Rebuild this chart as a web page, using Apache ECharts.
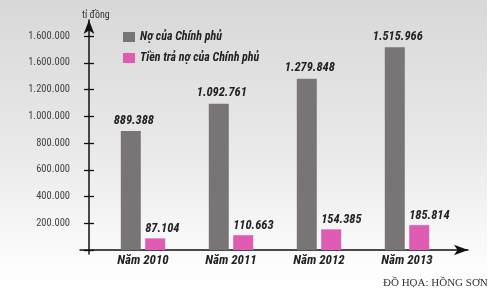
<!DOCTYPE html>
<html><head><meta charset="utf-8">
<script src="https://cdn.jsdelivr.net/npm/echarts@6/dist/echarts.min.js"></script>
<style>html,body{margin:0;padding:0;background:#fff}#c{width:500px;height:298px}</style>
</head><body><div id="c"></div>
<script>
const categories = ['Năm 2010', 'Năm 2011', 'Năm 2012', 'Năm 2013'];
const debtValues = [889388, 1092761, 1279848, 1515966];
const paymentValues = [87104, 110663, 154385, 185814];
const seriesNames = ['Nợ của Chính phủ', 'Tiền trả nợ của Chính phủ'];
const yTickLabels = ['', '200.000', '400.000', '600.000', '800.000', '1.000.000', '1.200.000', '1.600.000', '1.600.000'];
const unitLabel = 'tỉ đồng';
const creditLabel = 'ĐỒ HỌA: HỒNG SƠN';

const NARROW = "'Roboto Condensed', sans-serif";
const fmt = v => String(v).replace(/\B(?=(\d{3})+(?!\d))/g, '.');
const chart = echarts.init(document.getElementById('c'), null, {renderer: 'canvas'});
const yStep = 200000, yMax = 1600000;
chart.setOption({
  animation: false,
  graphic: [{
    type: 'rect', z: -10, silent: true,
    shape: {x: 0, y: 0, width: 487, height: 298},
    style: {fill: new echarts.graphic.LinearGradient(0, 0, 0, 1, [
      {offset: 0, color: '#d8d8d8'}, {offset: 0.5, color: '#e9e9e9'}, {offset: 0.9, color: '#fdfdfd'}, {offset: 1, color: '#ffffff'}])}
  }],
  title: [
    {text: unitLabel, left: 77, top: 5, textStyle: {fontFamily: NARROW, fontSize: 10, fontWeight: 'normal', color: '#333'}},
    {text: creditLabel, left: 378, top: 273, textStyle: {fontFamily: "'Liberation Serif', serif", fontSize: 11, fontWeight: 'normal', color: '#333'}}
  ],
  legend: {
    orient: 'vertical', left: 118, top: 26, itemWidth: 12, itemHeight: 10, itemGap: 9,
    icon: 'rect', data: seriesNames,
    textStyle: {fontFamily: NARROW, fontSize: 12, fontWeight: 'bold', fontStyle: 'italic', color: '#222'}
  },
  grid: [
    {left: 99, right: 49, top: 36, bottom: 48},
    {left: 89, right: 100, top: 20, bottom: 44},
    {left: 80, right: 32, top: 20, bottom: 48}
  ],
  xAxis: [
    {type: 'category', data: categories, gridIndex: 0,
     axisLine: {show: false}, axisTick: {show: false},
     axisLabel: {margin: 4, fontFamily: NARROW, fontSize: 13, fontWeight: 'bold', fontStyle: 'italic', color: '#222'}},
    {type: 'value', gridIndex: 1, show: false},
    {type: 'value', gridIndex: 2, min: 0, max: 1, axisLabel: {show: false}, axisTick: {show: false}, splitLine: {show: false},
     axisLine: {show: true, symbol: ['none', 'arrow'], symbolSize: [8, 14], lineStyle: {color: '#111', width: 1.5}}}
  ],
  yAxis: [
    {type: 'value', gridIndex: 0, min: 0, max: yMax, interval: yStep, offset: 10,
     axisLine: {show: false}, splitLine: {show: false},
     axisTick: {show: true, inside: false, length: 5, lineStyle: {color: '#111', width: 1.3}},
     axisLabel: {margin: 19, fontFamily: NARROW, fontSize: 10.5, color: '#444',
       formatter: v => yTickLabels[Math.round(v / yStep)] || ''}},
    {type: 'value', gridIndex: 0, min: 0, max: yMax, interval: yStep, offset: 10, position: 'left',
     axisLine: {show: false}, splitLine: {show: false}, axisLabel: {show: false},
     axisTick: {show: true, inside: true, length: 5, lineStyle: {color: '#111', width: 1.3}}},
    {type: 'value', gridIndex: 1, min: 0, max: 1, axisLabel: {show: false}, axisTick: {show: false}, splitLine: {show: false},
     axisLine: {show: true, symbol: ['none', 'arrow'], symbolSize: [8, 14], lineStyle: {color: '#111', width: 1.5}}},
    {type: 'value', gridIndex: 2, show: false}
  ],
  series: [
    {name: seriesNames[0], type: 'bar', data: debtValues, xAxisIndex: 0, yAxisIndex: 0,
     barWidth: 20, barGap: '22%', itemStyle: {color: '#797576'},
     label: {show: true, position: 'top', distance: 4, offset: [3, 0], formatter: p => fmt(p.value),
       fontFamily: NARROW, fontSize: 12.5, fontWeight: 'bold', fontStyle: 'italic', color: '#222'}},
    {name: seriesNames[1], type: 'bar', data: paymentValues, xAxisIndex: 0, yAxisIndex: 0,
     barWidth: 20, itemStyle: {color: '#e05bb4'},
     label: {show: true, position: [0, -3], align: 'left', verticalAlign: 'bottom', formatter: p => fmt(p.value),
       fontFamily: NARROW, fontSize: 12.5, fontWeight: 'bold', fontStyle: 'italic', color: '#222'}}
  ]
});
</script></body></html>
